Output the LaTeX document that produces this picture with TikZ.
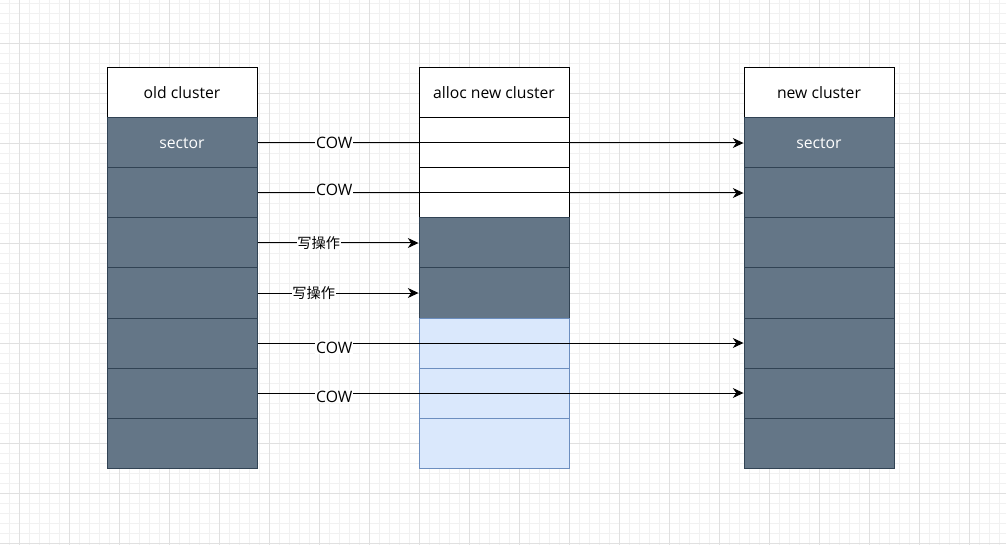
\documentclass[tikz,border=0pt]{standalone}
\usepackage{fontspec}
\setmainfont{Open Sans}
\newfontfamily\cjk{Noto Sans CJK SC}
\usepackage{tikz}
\usetikzlibrary{arrows.meta}
\definecolor{sectfill}{HTML}{647687}
\definecolor{sectline}{HTML}{314354}
\definecolor{sparefill}{HTML}{DAE8FC}
\definecolor{spareline}{HTML}{6C8EBF}
\definecolor{gridminor}{HTML}{F1F1F1}
\definecolor{gridmajor}{HTML}{E0E0E0}

\begin{document}
\begin{tikzpicture}[x=0.75pt, y=-0.75pt, font=\fontsize{11.8}{14}\selectfont,
      cell/.style={minimum width=112.5pt, minimum height=37.5pt, inner sep=0pt, line width=0.75pt},
      head/.style={cell, draw=black, fill=white},
      fresh/.style={cell, draw=black, fill=white},
      dark/.style={cell, draw=sectline, fill=sectfill, text=white},
      spare/.style={cell, draw=spareline, fill=sparefill},
      cow/.style={line width=0.75pt, -{Stealth[length=8pt,width=7.5pt,inset=2.5pt]}},
      op/.style={fill=white, inner sep=0.5pt}]
      \useasboundingbox (0,0) rectangle (1006,545);
      % background grid
      \fill[white] (0,0) rectangle (1006,545);
      \foreach \gx in {9,19,...,1006} \draw[gridminor, line width=0.6pt] (\gx,0) -- (\gx,545);
      \foreach \gy in {3,13,...,545} \draw[gridminor, line width=0.6pt] (0,\gy) -- (1006,\gy);
      \foreach \gx in {19,69,...,1006} \draw[gridmajor, line width=0.6pt] (\gx,0) -- (\gx,545);
      \foreach \gy in {43,93,...,545} \draw[gridmajor, line width=0.6pt] (0,\gy) -- (1006,\gy);
      % old cluster
      \node[head] (oldHead) at (182,93) {old cluster};
      \node[dark] (old1) at (182,143) {sector};
      \node[dark] (old2) at (182,193) {};
      \node[dark] (old3) at (182,243) {};
      \node[dark] (old4) at (182,293) {};
      \node[dark] (old5) at (182,343) {};
      \node[dark] (old6) at (182,393) {};
      \node[dark] (old7) at (182,443) {};
      % alloc new cluster
      \node[head] (allocHead) at (494,93) {alloc new cluster};
      \node[fresh] (alloc1) at (494,143) {};
      \node[fresh] (alloc2) at (494,193) {};
      \node[dark] (alloc3) at (494,243) {};
      \node[dark] (alloc4) at (494,293) {};
      \node[spare] (alloc5) at (494,343) {};
      \node[spare] (alloc6) at (494,393) {};
      \node[spare] (alloc7) at (494,443) {};
      % new cluster
      \node[head] (newHead) at (819,93) {new cluster};
      \node[dark] (new1) at (819,143) {sector};
      \node[dark] (new2) at (819,193) {};
      \node[dark] (new3) at (819,243) {};
      \node[dark] (new4) at (819,293) {};
      \node[dark] (new5) at (819,343) {};
      \node[dark] (new6) at (819,393) {};
      \node[dark] (new7) at (819,443) {};
      % copy on write / write
      \draw[cow] (old1) -- node[op, pos=0.158] {COW} (new1);
      \draw[cow] (old2) -- node[op, pos=0.158, yshift=2.2pt] {COW} (new2);
      \draw[cow] (old3) -- node[op, pos=0.38] {\cjk\fontsize{10.7}{13}\selectfont 写操作} (alloc3);
      \draw[cow] (old4) -- node[op, pos=0.35] {\cjk\fontsize{10.7}{13}\selectfont 写操作} (alloc4);
      \draw[cow] (old5) -- node[op, pos=0.158, yshift=-3.4pt] {COW} (new5);
      \draw[cow] (old6) -- node[op, pos=0.158, yshift=-2.6pt] {COW} (new6);
\end{tikzpicture}
\end{document}
